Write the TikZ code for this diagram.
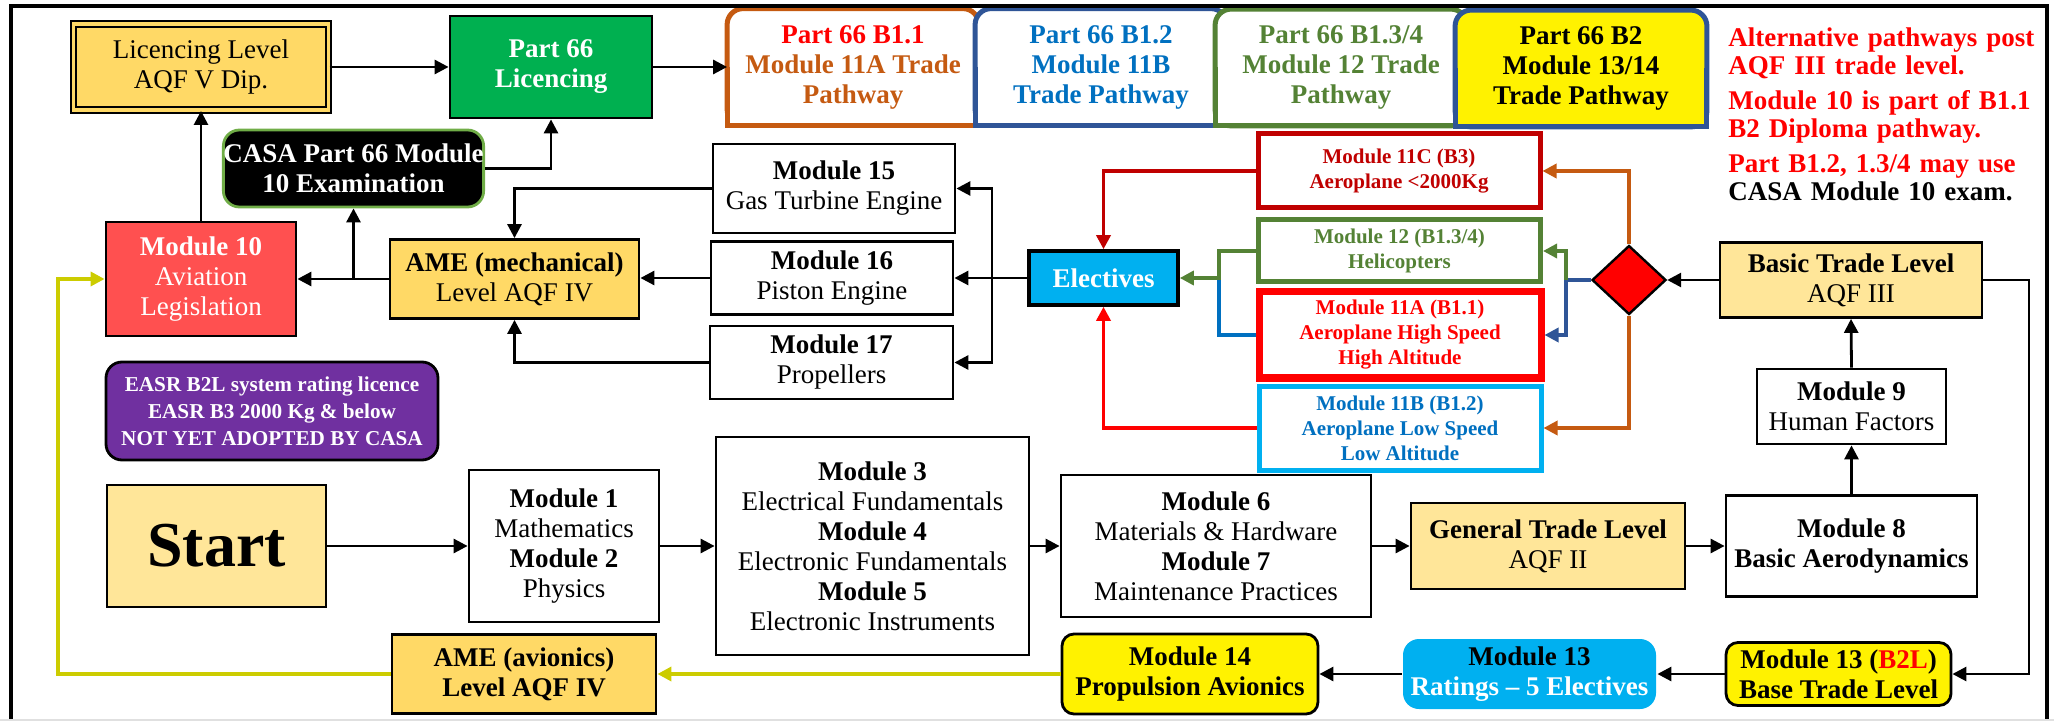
\documentclass[tikz,border=0pt]{standalone}
\usepackage{fontspec}
\setmainfont{Liberation Serif}
\usetikzlibrary{arrows.meta,shapes.geometric,backgrounds}

\definecolor{amber}{HTML}{FFD966}
\definecolor{sand}{HTML}{FFE699}
\definecolor{lgreen}{HTML}{00B050}
\definecolor{exgreen}{HTML}{70AD47}
\definecolor{coral}{HTML}{FF5050}
\definecolor{rust}{HTML}{C55A11}
\definecolor{pblue}{HTML}{2F5597}
\definecolor{tblue}{HTML}{0070C0}
\definecolor{moss}{HTML}{548235}
\definecolor{skyb}{HTML}{00B0F0}
\definecolor{darkred}{HTML}{C00000}
\definecolor{purp}{HTML}{7030A0}
\definecolor{olivey}{HTML}{CCCC00}

\newcommand\fmain{\fontsize{13.5pt}{15pt}\selectfont}
\newcommand\fsmall{\fontsize{10.5pt}{12.5pt}\selectfont}
\newcommand\fpurp{\fontsize{10.6pt}{13.5pt}\selectfont}
\newcommand\fstart{\fontsize{32pt}{36pt}\selectfont}
\newcommand\fnote{\fontsize{13.5pt}{14pt}\selectfont}

\tikzset{
  box/.style={draw, line width=1.4pt, align=center, inner sep=0pt, font=\fmain},
  pathbox/.style={align=center, inner sep=0pt, font=\fmain\bfseries,
    minimum width=125.5pt, minimum height=58pt},
  elect/.style={draw=#1, text=#1, line width=2.5pt, fill=white, align=center,
    inner sep=0pt, font=\fsmall\bfseries, minimum width=141pt},
  conn/.style={line width=1.4pt, ->},
  cconn/.style={line width=1.7pt, draw=#1, ->},
}

\begin{document}
\begin{tikzpicture}[x=0.5pt, y=-0.5pt, >={Triangle[length=7pt,width=7pt]}]
    \useasboundingbox (0,0) rectangle (2054,721);
    % frame
    \draw[line width=2pt] (11,721) -- (11,6) -- (2047,6) -- (2047,721);
    \draw[black!12, line width=1pt] (0,720) -- (2054,720);

    % top row
    \node[box, fill=amber, draw, double=amber, double distance=1.8pt, line width=1pt,
      minimum width=127.5pt, minimum height=43pt] (lic) at (201,67) {Licencing Level\\AQF V Dip.};
    \node[box, fill=lgreen, text=white, font=\fmain\bfseries,
      minimum width=101pt, minimum height=51pt] (p66) at (551,67) {Part 66\\Licencing};
    \node[pathbox, text=rust] (b11) at (853,67) {{\color{red}Part 66 B1.1}\\Module 11A Trade\\Pathway};
    \node[pathbox, text=tblue] (b12) at (1101,67) {Part 66 B1.2\\Module 11B\\Trade Pathway};
    \node[pathbox, text=moss] (b134) at (1341,67.5) {Part 66 B1.3/4\\Module 12 Trade\\Pathway};
    \node[pathbox] (b2) at (1581,68.5) {Part 66 B2\\Module 13/14\\Trade Pathway};
    \begin{scope}[on background layer]
      % rounded at the top, square at the bottom
      \foreach \n/\c/\f in {b11/rust/white, b12/pblue/white, b134/moss/white, b2/pblue/yellow}{
        \draw[line width=2.5pt, draw=\c, fill=\f, rounded corners=8pt] (\n.south west) rectangle (\n.north east);
        \fill[\f] (\n.west) rectangle (\n.south east);
        \draw[line width=2.5pt, draw=\c] (\n.west) -- (\n.south west) -- (\n.south east) -- (\n.east);
      }
    \end{scope}
    \node[anchor=north west, inner sep=0pt, text width=150.5pt, align=left,
      font=\fnote\bfseries, text=red] (note) at (1728,27)
      {\makebox[\linewidth][s]{Alternative pathways post}\\AQF III trade level.\\[3.5pt]
       \makebox[\linewidth][s]{Module 10 is part of B1.1}\\B2 Diploma pathway.\\[3.5pt]
       \makebox[\linewidth][s]{Part B1.2, 1.3/4 may use}\\{\color{black}CASA Module 10 exam.}};

    % mechanical side
    \node[box, fill=black, draw=exgreen, text=white, font=\fmain\bfseries, rounded corners=8pt,
      minimum width=125.5pt, minimum height=38.5pt] (casa) at (353.5,168.5) {CASA Part 66 Module\\10 Examination};
    \node[box, fill=coral, text=white, minimum width=95pt, minimum height=57pt] (m10) at (201,279)
      {\textbf{Module 10}\\Aviation\\Legislation};
    \node[box, fill=amber, minimum width=124.5pt, minimum height=39.5pt] (amem) at (514.5,279)
      {\textbf{AME (mechanical)}\\Level AQF IV};
    \node[box, minimum width=121pt, minimum height=44.5pt] (m15) at (834,188.5) {\textbf{Module 15}\\Gas Turbine Engine};
    \node[box, minimum width=121pt, minimum height=36.5pt] (m16) at (832,278) {\textbf{Module 16}\\Piston Engine};
    \node[box, minimum width=121.5pt, minimum height=36.5pt] (m17) at (831.5,362.5) {\textbf{Module 17}\\Propellers};
    \node[box, fill=skyb, text=white, font=\fmain\bfseries, line width=1.8pt,
      minimum width=74.5pt, minimum height=27pt] (elec) at (1103.5,278) {Electives};

    % electives
    \node[elect=darkred, minimum height=37pt] (m11c) at (1399,171) {Module 11C (B3)\\Aeroplane <2000Kg};
    \node[elect=moss, minimum height=31pt] (m12) at (1399.5,251) {Module 12 (B1.3/4)\\Helicopters};
    \node[elect=red, line width=3.5pt, minimum height=43pt] (m11a) at (1400,335)
      {Module 11A (B1.1)\\Aeroplane High Speed\\High Altitude};
    \node[elect=skyb, text=tblue, minimum height=42pt] (m11b) at (1400,428)
      {Module 11B (B1.2)\\Aeroplane Low Speed\\Low Altitude};
    \node[diamond, draw, fill=red, line width=1.2pt, inner sep=0pt,
      minimum width=37pt, minimum height=34.5pt] (dia) at (1629,280) {};
    \node[box, fill=sand, minimum width=131pt, minimum height=37.5pt] (btl) at (1851,280)
      {\textbf{Basic Trade Level}\\AQF III};
    \node[box, minimum width=94.5pt, minimum height=37.5pt] (m9) at (1851.5,406.5) {\textbf{Module 9}\\Human Factors};
    \node[box, font=\fmain\bfseries, minimum width=125.5pt, minimum height=50.5pt] (m8) at (1851.5,546)
      {Module 8\\Basic Aerodynamics};

    % general row
    \node[box, fill=sand, minimum width=137pt, minimum height=43pt] (gtl) at (1548,546)
      {\textbf{General Trade Level}\\AQF II};
    \node[box, minimum width=155pt, minimum height=71pt] (m67) at (1216,546)
      {\textbf{Module 6}\\Materials \& Hardware\\\textbf{Module 7}\\Maintenance Practices};
    \node[box, minimum width=156.5pt, minimum height=109pt] (m345) at (872.5,546)
      {\textbf{Module 3}\\Electrical Fundamentals\\\textbf{Module 4}\\Electronic Fundamentals\\\textbf{Module 5}\\Electronic Instruments};
    \node[box, minimum width=95pt, minimum height=76pt] (m1) at (564,546)
      {\textbf{Module 1}\\Mathematics\\\textbf{Module 2}\\Physics};
    \node[box, fill=sand, font=\fstart\bfseries, minimum width=109.5pt, minimum height=61pt] (start) at (216.5,546) {Start};
    \node[box, fill=purp, text=white, font=\fpurp\bfseries, rounded corners=8pt,
      minimum width=166pt, minimum height=49pt] (easr) at (272,411)
      {EASR B2L system rating licence\\EASR B3 2000 Kg \& below\\NOT YET ADOPTED BY CASA};

    % avionics row
    \node[box, fill=amber, font=\fmain\bfseries, minimum width=132pt, minimum height=39.5pt] (ameav) at (524,674)
      {AME (avionics)\\Level AQF IV};
    \node[box, fill=yellow, font=\fmain\bfseries, rounded corners=6pt,
      minimum width=128pt, minimum height=40pt] (m14) at (1190,674) {Module 14\\Propulsion Avionics};
    \node[box, draw=none, fill=skyb, font=\fmain\bfseries, rounded corners=8pt,
      minimum width=126.5pt, minimum height=35pt] (m13) at (1529.5,674) {Module 13\\{\color{white}Ratings -- 5 Electives}};
    \node[box, fill=yellow, font=\fmain\bfseries, rounded corners=6pt,
      minimum width=112.5pt, minimum height=31.5pt] (m13l) at (1838.5,674)
      {Module 13 ({\color{red}B2L})\\Base Trade Level};

    \coordinate (bus) at (992,278);
    \coordinate (jl) at (1219,278);
    \coordinate (jr) at (1566,280);
    \coordinate (rbend) at (2029,674);
    \coordinate (ybend) at (58,674);

    % connectors
    \draw[conn] (m10.north) -- (lic.south);
    \draw[conn] (lic.east) -- (p66.west);
    \draw[conn] (p66.east) -- (b11.west |- p66.east);
    \draw[conn] (casa.east) -| (p66.south);
    \draw[conn] (amem.west) -- (m10.east);
    \draw[conn] (casa.south |- amem.west) -- (casa.south);
    \draw[conn] (m15.west) -| (amem.north);
    \draw[conn] (m16.west) -- (m16.west -| amem.east);
    \draw[conn] (m17.west) -| (amem.south);
    \draw[conn, -] (elec.west) -- (bus);
    \draw[conn] (bus) |- (m15.east);
    \draw[conn] (bus) -- (m16.east);
    \draw[conn] (bus) |- (m17.east);
    \draw[cconn=darkred] (m11c.west) -| (elec.north);
    \draw[cconn=red] (m11b.west) -| (elec.south);
    \draw[cconn=tblue, -] (m11a.west) -| (jl);
    \draw[cconn=moss] (m12.west) -| (jl) -- (elec.east);
    \draw[conn] (btl.west) -- (dia.east);
    \draw[cconn=rust] (dia.north) |- (m11c.east);
    \draw[cconn=rust] (dia.south) |- (m11b.east);
    \draw[cconn=pblue] (dia.west) -- (jr) |- (m11a.east);
    \draw[cconn=moss] (jr) |- (m12.east);
    \draw[conn] (m8.north) -- (m9.south);
    \draw[conn] (m9.north) -- (btl.south);
    \draw[conn] (btl.east) -| (rbend) -- (m13l.east);
    \draw[conn] (m13l.west) -- (m13.east);
    \draw[conn] (m13.west) -- (m14.east);
    \draw[cconn=olivey] (m14.west) -- (ameav.east);
    \draw[cconn=olivey] (ameav.west) -- (ybend) |- (m10.west);
    \draw[conn] (start.east) -- (m1.west);
    \draw[conn] (m1.east) -- (m345.west);
    \draw[conn] (m345.east) -- (m67.west);
    \draw[conn] (m67.east) -- (gtl.west);
    \draw[conn] (gtl.east) -- (m8.west);
\end{tikzpicture}
\end{document}
